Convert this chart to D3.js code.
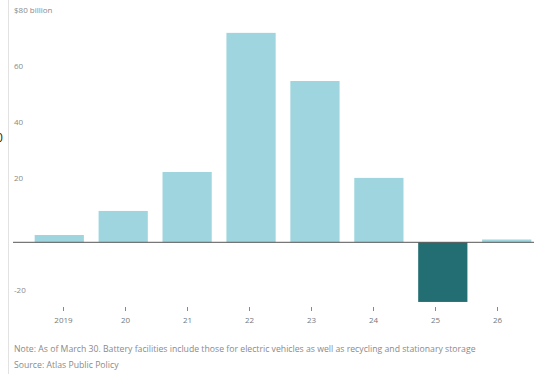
<!DOCTYPE html>
<html>
<head>
<meta charset="utf-8">
<script src="https://cdn.jsdelivr.net/npm/d3@7"></script>
<style>
    body { margin: 0; background: #fff; }
    svg text { font-family: "Open Sans", "DejaVu Sans", sans-serif; }
</style>
</head>
<body>
<svg id="chart" width="534" height="374"></svg>
<script>
// data
const years = ["2019", "20", "21", "22", "23", "24", "25", "26"];
const values = [2.6, 11.2, 25.1, 74.8, 57.6, 23.0, -21.3, 1.0];
const yTicks = [-20, 20, 40, 60, 80];
const noteText = "Note: As of March 30. Battery facilities include those for electric vehicles as well as recycling and stationary storage";
const sourceText = "Source: Atlas Public Policy";

let svg = d3.select("#chart");

// scales
let x = d3.scaleBand()
    .domain(years)
    .range([27, 539])
    .paddingInner(0.23)
    .paddingOuter(0.12);

// tick axis sits a little off the bars in the original
let xTick = d3.scalePoint()
    .domain(years)
    .range([63, 497]);

let y = d3.scaleLinear()
    .domain([-20, 80])
    .range([298.3, 18.3]);

// left rule
svg.append("line")
    .attr("x1", 8.5).attr("x2", 8.5)
    .attr("y1", 0).attr("y2", 374)
    .attr("stroke", "#e2e2e2")
    .attr("stroke-width", 1);

// cut-off label at far left (cropped in the original too)
svg.append("text")
    .attr("x", -4)
    .attr("y", 142)
    .attr("fill", "#222")
    .style("font-size", "12px")
    .text("0");

// y labels, sitting above where the gridlines would be
svg.append("g")
    .selectAll("text")
    .data(yTicks)
    .enter()
    .append("text")
    .attr("x", 14)
    .attr("y", function(d) { return y(d) - 5; })
    .attr("fill", "#8a8a8a")
    .style("font-size", "8px")
    .text(function(d) { return d === 80 ? "$80 billion" : d; });

// bars
svg.append("g")
    .selectAll("rect")
    .data(values)
    .enter()
    .append("rect")
    .attr("x", function(d, i) { return x(years[i]); })
    .attr("width", x.bandwidth())
    .attr("y", function(d) { return d >= 0 ? y(d) : y(0); })
    .attr("height", function(d) { return Math.abs(y(d) - y(0)); })
    .attr("fill", function(d) { return d < 0 ? "#236e72" : "#9fd5df"; });

// zero line
svg.append("line")
    .attr("x1", 13).attr("x2", 534)
    .attr("y1", y(0)).attr("y2", y(0))
    .attr("stroke", "#555")
    .attr("stroke-width", 1);

// x axis
let xAxis = svg.append("g")
    .attr("transform", "translate(0,307)")
    .call(d3.axisBottom(xTick).tickSize(4).tickPadding(6));
xAxis.select(".domain").remove();
xAxis.selectAll("line").attr("stroke", "#888");
xAxis.selectAll("text")
    .attr("fill", "#777")
    .style("font-size", "8px")
    .style("font-family", "'Open Sans', sans-serif");

// footnotes
svg.append("text")
    .attr("x", 14)
    .attr("y", 352)
    .attr("fill", "#8a8a8a")
    .style("font-size", "8.7px")
    .text(noteText);

svg.append("text")
    .attr("x", 14)
    .attr("y", 368)
    .attr("fill", "#8a8a8a")
    .style("font-size", "8.7px")
    .text(sourceText);
</script>
</body>
</html>
